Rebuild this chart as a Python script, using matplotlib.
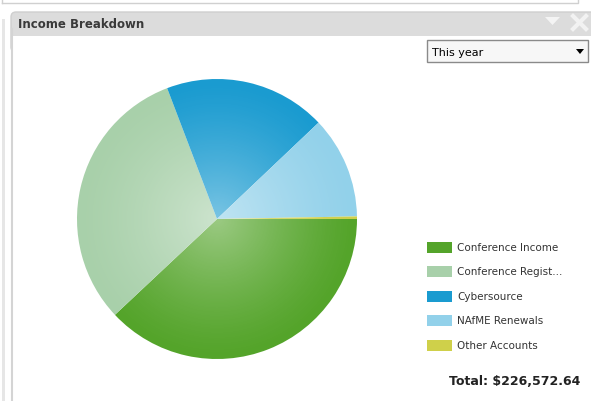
import numpy as np
import matplotlib
matplotlib.use("Agg")
import matplotlib.pyplot as plt
from matplotlib.patches import Rectangle, Circle, FancyBboxPatch, Polygon

# datos (porcentaje aproximado del total)
labels = ["Conference Income", "Conference Regist...", "Cybersource",
          "NAfME Renewals", "Other Accounts"]
amounts = [86100, 70700, 42400, 26700, 672.64]
colors = ["#54a42a", "#a8d0aa", "#1a9bd0", "#92d1ea", "#cfd04a"]
total_text = "Total: $226,572.64"
period = "This year"
title = "Income Breakdown"

W, H = 591, 402
fig = plt.figure(figsize=(W / 100, H / 100), dpi=100)
fig.patch.set_facecolor("white")

# capa de fondo en pixeles (y hacia abajo)
bg = fig.add_axes([0, 0, 1, 1])
bg.set_xlim(0, W)
bg.set_ylim(H, 0)
bg.axis("off")

# borde del panel superior y tira izquierda
bg.plot([2, 578, 578], [4, 4, 0], color="#d0d0d0", lw=1)
bg.plot([2, 2], [0, 4], color="#d0d0d0", lw=1)
bg.add_patch(Rectangle((2, 20), 3, H - 20, facecolor="#e6e6e6", edgecolor="none"))

# cabecera gris
bg.add_patch(FancyBboxPatch((11, 13), W, 40, boxstyle="round,pad=0,rounding_size=5",
                            facecolor="#dcdcdc", edgecolor="#cfcfcf", lw=1))
bg.add_patch(Rectangle((11.5, 37), W, H, facecolor="white", edgecolor="none"))
bg.plot([11.5, 11.5], [30, H], color="#d4d4d4", lw=1.5)
bg.text(18, 25, title, fontsize=8.5, fontweight="bold", color="#3a3a3a",
        va="center", ha="left", family="DejaVu Sans")

# iconos de la cabecera
bg.add_patch(Polygon([[545, 18], [560, 18], [552.5, 26]], closed=True,
                     facecolor="#f4f4f4", edgecolor="none"))
bg.plot([573, 586], [17, 30], color="#f2f2f2", lw=3)
bg.plot([573, 586], [30, 17], color="#f2f2f2", lw=3)

# desplegable
bg.add_patch(Rectangle((427, 41), 161, 22, facecolor="#f7f7f7", edgecolor="#8a8a8a", lw=1))
bg.text(432, 52.5, period, fontsize=8, color="black", va="center", ha="left")
bg.add_patch(Polygon([[576, 50], [584, 50], [580, 55]], closed=True,
                     facecolor="black", edgecolor="none"))

# leyenda
for i, (lab, col) in enumerate(zip(labels, colors)):
    y = 248 + i * 24.5
    bg.add_patch(Rectangle((427, y - 5.5), 25, 11, facecolor=col, edgecolor="none"))
    bg.text(457, y, lab, fontsize=7.5, color="#333333", va="center", ha="left")

bg.text(580, 382, total_text, fontsize=9, fontweight="bold", color="#222222",
        va="center", ha="right")

# tarta
cx, cy, r = 217, 220, 140
ax = fig.add_axes([(cx - r) / W, (H - cy - r) / H, 2 * r / W, 2 * r / H])
wedges, _ = ax.pie(amounts, colors=colors, startangle=0, counterclock=False,
                   radius=1, wedgeprops=dict(linewidth=0))
ax.set_xlim(-1, 1)
ax.set_ylim(-1, 1)
ax.set_aspect("equal")
ax.axis("off")

# brillo radial en el centro
n = 300
gx, gy = np.meshgrid(np.linspace(-1, 1, n), np.linspace(-1, 1, n))
rr = np.sqrt(gx ** 2 + gy ** 2)
glow = np.zeros((n, n, 4))
glow[..., :3] = 1.0
glow[..., 3] = np.clip(0.42 * (1 - rr) ** 1.3, 0, 1)
im = ax.imshow(glow, extent=(-1, 1, -1, 1), origin="lower", zorder=5)
im.set_clip_path(Circle((0, 0), 1, transform=ax.transData))

fig.savefig("out.png", dpi=100)
